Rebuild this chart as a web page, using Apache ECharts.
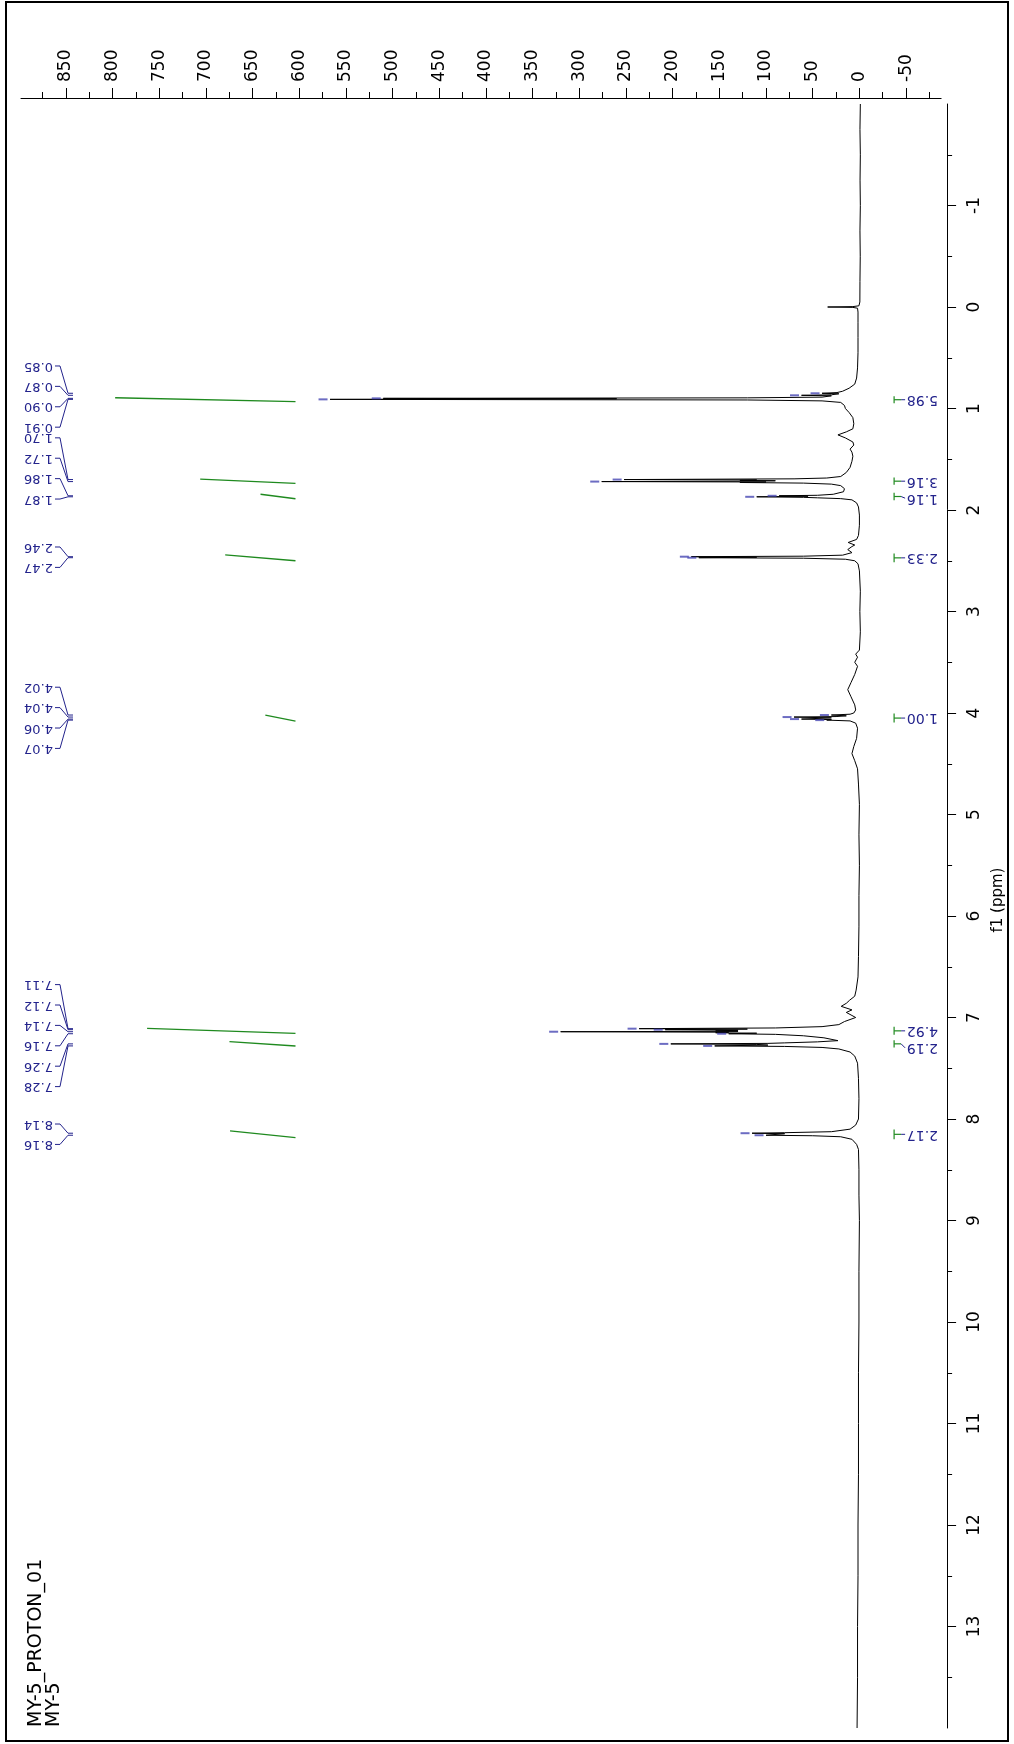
<!DOCTYPE html>
<html>
<head>
<meta charset="utf-8">
<script src="https://cdn.jsdelivr.net/npm/echarts/dist/echarts.min.js"></script>
<style>
  html, body { margin: 0; padding: 0; background: #fff; }
  #chart { width: 1014px; height: 1744px; }
</style>
</head>
<body>
<div id="chart"></div>
<script>
// 1H NMR spectrum of MY-5, drawn with the ppm axis running down the page.

// Spectrum trace: [chemical shift (ppm), intensity]
const spectrum = [
  [-2.0, -1], [-1.75, -0.6], [-1.5, -1], [-1.25, -0.7], [-1.0, -1], [-0.75, -0.6],
  [-0.5, -0.9], [-0.25, -0.6], [-0.05, -0.5], [-0.012, 0.5], [-0.004, 7], [0.0, 34],
  [0.004, 7], [0.012, 2], [0.05, 1.5], [0.15, 1.5], [0.3, 1.5], [0.45, 1.5], [0.6, 2],
  [0.7, 3], [0.76, 5], [0.8, 11], [0.83, 18], [0.843, 24], [0.85, 40], [0.855, 22],
  [0.865, 30], [0.87, 62], [0.875, 30], [0.888, 40], [0.895, 120], [0.90, 510],
  [0.904, 260], [0.91, 567], [0.916, 120], [0.925, 40], [0.94, 20], [0.97, 16], [1.0, 15],
  [1.04, 11], [1.09, 7], [1.15, 6], [1.2, 7], [1.23, 14], [1.26, 23], [1.29, 15], [1.33, 7],
  [1.36, 6], [1.40, 10], [1.43, 8], [1.47, 7], [1.52, 8], [1.58, 10], [1.63, 14], [1.67, 20],
  [1.685, 35], [1.693, 70], [1.70, 252], [1.704, 110], [1.708, 128], [1.712, 90],
  [1.716, 128], [1.72, 276], [1.724, 100], [1.729, 128], [1.735, 60], [1.745, 30],
  [1.76, 20], [1.79, 16], [1.82, 17], [1.845, 28], [1.855, 45], [1.86, 86], [1.864, 55],
  [1.87, 110], [1.875, 60], [1.88, 45], [1.888, 20], [1.9, 8], [1.93, 3], [1.97, 1],
  [2.05, 0], [2.15, 0], [2.25, 1], [2.29, 3], [2.32, 12], [2.345, 5], [2.36, 8],
  [2.39, 12.5], [2.42, 8], [2.445, 18], [2.455, 60], [2.46, 180], [2.465, 110],
  [2.47, 172], [2.475, 60], [2.485, 15], [2.5, 5], [2.53, 1.5], [2.6, 0], [2.8, -1],
  [3.0, -0.5], [3.2, -1], [3.38, 0], [3.42, 4], [3.45, 2], [3.5, 5], [3.54, 2], [3.62, 5],
  [3.7, 9], [3.77, 12.5], [3.84, 9], [3.92, 5], [3.97, 4], [4.0, 6], [4.012, 10],
  [4.02, 30], [4.028, 14], [4.035, 25], [4.04, 70], [4.048, 30], [4.055, 28], [4.06, 62],
  [4.065, 30], [4.07, 35], [4.078, 10], [4.1, 4], [4.15, 2], [4.25, 3], [4.33, 6],
  [4.4, 8], [4.47, 5], [4.55, 2], [4.7, 1], [4.9, 0], [5.2, 0.5], [5.5, 0], [5.8, 0.5],
  [6.1, 0.5], [6.4, 1], [6.6, 1.5], [6.73, 3.5], [6.79, 5], [6.83, 10.5], [6.86, 14],
  [6.89, 19.5], [6.925, 8], [6.95, 14], [6.98, 8], [7.0, 4], [7.04, 16], [7.07, 22],
  [7.09, 40], [7.103, 90], [7.11, 236], [7.114, 120], [7.12, 208], [7.126, 130],
  [7.132, 154], [7.136, 130], [7.14, 320], [7.145, 140], [7.15, 154], [7.155, 110],
  [7.16, 140], [7.166, 90], [7.18, 60], [7.2, 38], [7.228, 23], [7.24, 45], [7.25, 80],
  [7.255, 98], [7.26, 202], [7.265, 110], [7.272, 98], [7.28, 155], [7.285, 80],
  [7.295, 40], [7.31, 22], [7.34, 10], [7.38, 5], [7.45, 2], [7.6, 1], [7.8, 0.5],
  [8.0, 1], [8.06, 4], [8.1, 10], [8.125, 30], [8.135, 80], [8.14, 115], [8.145, 80],
  [8.152, 80], [8.16, 100], [8.165, 50], [8.175, 20], [8.2, 8], [8.25, 3], [8.3, 1],
  [8.5, 0.5], [8.75, 0.5], [9.0, 0], [9.5, 0.5], [10.0, 0.5], [10.5, 1], [11.0, 1],
  [11.5, 1], [12.0, 1.5], [12.5, 1.5], [13.0, 2], [13.5, 2], [14.0, 2.5]
];

// Picked peaks: shift (ppm), height, multiplet group
const peakShift  = [0.85, 0.87, 0.90, 0.91, 1.70, 1.72, 1.86, 1.87, 2.46, 2.47,
                    4.02, 4.04, 4.06, 4.07, 7.11, 7.12, 7.14, 7.16, 7.26, 7.28, 8.14, 8.16];
const peakHeight = [40, 62, 510, 567, 252, 276, 86, 110, 180, 172,
                    30, 70, 62, 35, 236, 208, 320, 140, 202, 155, 115, 100];
const peakGroup  = [0, 0, 0, 0, 1, 1, 1, 1, 2, 2, 3, 3, 3, 3, 4, 4, 4, 4, 4, 4, 5, 5];

// Integrals: region (ppm) and normalised value
const intFrom  = [0.894, 1.695, 1.845, 2.443, 4.02, 7.107, 7.238, 8.118];
const intTo    = [0.933, 1.737, 1.889, 2.50, 4.08, 7.156, 7.281, 8.184];
const intValue = [5.98, 3.16, 1.16, 2.33, 1.00, 4.92, 2.19, 2.17];

// Axis ticks
const xMajor = [850, 800, 750, 700, 650, 600, 550, 500, 450, 400, 350, 300, 250, 200, 150, 100, 50, 0, -50];
const xMinor = [875, 825, 775, 725, 675, 625, 575, 525, 475, 425, 375, 325, 275, 225, 175, 125, 75, 25, -25, -75];
const yMajor = [-1, 0, 1, 2, 3, 4, 5, 6, 7, 8, 9, 10, 11, 12, 13];
const yMinor = [-1.5, -0.5, 0.5, 1.5, 2.5, 3.5, 4.5, 5.5, 6.5, 7.5, 8.5, 9.5, 10.5, 11.5, 12.5, 13.5];

const titleLines = ['MY-5_PROTON_01', 'MY-5'];

// ---- styling ----
const FONT = '"DejaVu Sans", Verdana, sans-serif';
const LABEL_BLUE = '#23238c';
const MARK_BLUE = '#4747b3';
const INT_GREEN = '#1f8a1f';
const INT_BASE = 604;      // integral curve baseline (intensity units)
const INT_SCALE = 32.3;    // intensity units per integral unit
const LABEL_STEP = 20.4;   // px between stacked peak labels
const INT_LABEL_GAP = 17;  // px between neighbouring integral labels
const groupNudge = [0, -20, 0, 0, 0, 0];

const chart = echarts.init(document.getElementById('chart'), null, { renderer: 'canvas' });

const axisText = { fontFamily: FONT, fontSize: 17, color: '#000' };

function peakLabelItem(params, api) {
  const i = params.dataIndex;
  const cs = params.coordSys;
  const g = peakGroup[i];
  const members = [];
  peakGroup.forEach((gg, k) => { if (gg === g) members.push(k); });
  const n = members.length;
  const pos = members.indexOf(i);
  let mean = 0;
  members.forEach(k => { mean += api.coord([0, peakShift[k]])[1]; });
  mean /= n;
  const y = mean + groupNudge[g] + (pos - (n - 1) / 2) * LABEL_STEP;
  const tipY = api.coord([0, api.value(1)])[1];
  const x0 = cs.x;
  return {
    type: 'group',
    children: [
      {
        type: 'text', x: x0 + 32, y: y, rotation: Math.PI,
        style: { text: api.value(1).toFixed(2), fill: LABEL_BLUE, font: '13px ' + FONT,
                 align: 'left', verticalAlign: 'middle' }
      },
      {
        type: 'polyline',
        shape: { points: [[x0 + 34, y], [x0 + 39, y], [x0 + 47, tipY], [x0 + 52, tipY]] },
        style: { stroke: LABEL_BLUE, lineWidth: 1, fill: null }
      }
    ]
  };
}

// integral labels sit at their bracket centre; a crowded label moves down
function integralLabelY(api) {
  const out = intFrom.map((f, i) => (api.coord([0, f])[1] + api.coord([0, intTo[i]])[1]) / 2);
  for (let i = 1; i < out.length; i++) {
    if (out[i] - out[i - 1] < INT_LABEL_GAP) out[i] = out[i - 1] + INT_LABEL_GAP;
  }
  return out;
}

function integralItem(params, api) {
  const i = params.dataIndex;
  const cs = params.coordSys;
  const v = api.value(0), lo = api.value(1), hi = api.value(2);
  const pFull = api.coord([INT_BASE + v * INT_SCALE, lo]);
  const pBase = api.coord([INT_BASE, hi]);
  const yLo = api.coord([0, lo])[1];
  const yHi = api.coord([0, hi])[1];
  const bx = cs.x + cs.width - 47;
  const ly = integralLabelY(api)[i];
  const mid = (yLo + yHi) / 2;
  return {
    type: 'group',
    children: [
      { type: 'polyline', shape: { points: [pFull, pBase] },
        style: { stroke: INT_GREEN, lineWidth: 1.3, fill: null } },
      { type: 'line', shape: { x1: bx, y1: yLo - 1.5, x2: bx, y2: yHi + 1.5 },
        style: { stroke: INT_GREEN, lineWidth: 1.2 } },
      { type: 'line', shape: { x1: bx, y1: mid, x2: bx + 7, y2: mid },
        style: { stroke: INT_GREEN, lineWidth: 1.2 } },
      { type: 'line', shape: { x1: bx + 7, y1: mid, x2: bx + 11, y2: ly },
        style: { stroke: LABEL_BLUE, lineWidth: 1 } },
      { type: 'text', x: bx + 44, y: ly, rotation: Math.PI,
        style: { text: v.toFixed(2), fill: LABEL_BLUE, font: '14px ' + FONT,
                 align: 'left', verticalAlign: 'middle' } }
    ]
  };
}

const option = {
  animation: false,
  backgroundColor: '#fff',
  grid: { left: 21, right: 67, top: 104, bottom: 16, containLabel: false },
  xAxis: [
    {
      type: 'value', position: 'top', inverse: true, min: -87.5, max: 898, offset: 6,
      axisLine: { show: true, onZero: false, lineStyle: { color: '#000', width: 1 } },
      axisTick: { show: true, customValues: xMajor, length: 10, lineStyle: { color: '#000' } },
      axisLabel: Object.assign({ customValues: xMajor, rotate: -90, margin: 16 }, axisText),
      splitLine: { show: false }
    },
    {
      type: 'value', position: 'top', inverse: true, min: -87.5, max: 898, offset: 6,
      axisLine: { show: false, onZero: false },
      axisTick: { show: true, customValues: xMinor, length: 6, lineStyle: { color: '#000' } },
      axisLabel: { show: false },
      splitLine: { show: false }
    }
  ],
  yAxis: [
    {
      type: 'value', position: 'right', inverse: true, min: -2, max: 14, offset: 6,
      axisLine: { show: true, onZero: false, lineStyle: { color: '#000', width: 1 } },
      axisTick: { show: true, customValues: yMajor, length: 9, lineStyle: { color: '#000' } },
      axisLabel: Object.assign({ customValues: yMajor, rotate: 90, margin: 19,
                                 align: 'center', verticalAlign: 'top' }, axisText),
      splitLine: { show: false },
      name: 'f1 (ppm)', nameLocation: 'middle', nameRotate: 90, nameGap: 36,
      nameTextStyle: { fontFamily: FONT, fontSize: 15, color: '#000', padding: [0, 0, 0, 32] }
    },
    {
      type: 'value', position: 'right', inverse: true, min: -2, max: 14, offset: 6,
      axisLine: { show: false, onZero: false },
      axisTick: { show: true, customValues: yMinor, length: 5, lineStyle: { color: '#000' } },
      axisLabel: { show: false },
      splitLine: { show: false }
    }
  ],
  graphic: [
    { type: 'rect', shape: { x: 6, y: 2, width: 1002, height: 1739 },
      style: { stroke: '#000', lineWidth: 2, fill: null }, z: 100 },
    { type: 'text', x: 36, y: 1727, rotation: Math.PI / 2, z: 100,
      style: { text: titleLines[0], font: '19px ' + FONT, fill: '#000', align: 'left', verticalAlign: 'middle' } },
    { type: 'text', x: 54, y: 1727, rotation: Math.PI / 2, z: 100,
      style: { text: titleLines[1], font: '19px ' + FONT, fill: '#000', align: 'left', verticalAlign: 'middle' } }
  ],
  series: [
    {
      type: 'line', name: 'spectrum', xAxisIndex: 0, yAxisIndex: 0,
      data: spectrum.map(([d, v]) => [v, d]),
      showSymbol: false, symbol: 'none', silent: true,
      lineStyle: { color: '#000', width: 1 }, z: 4
    },
    {
      type: 'scatter', name: 'peaks', xAxisIndex: 0, yAxisIndex: 0,
      data: peakShift.map((s, i) => [peakHeight[i], s]),
      symbol: 'rect', symbolSize: [9, 2], symbolOffset: [-7, 0],
      itemStyle: { color: MARK_BLUE }, z: 5
    },
    {
      type: 'custom', name: 'peakLabels', xAxisIndex: 0, yAxisIndex: 0,
      data: peakShift.map((s, i) => [peakHeight[i], s]),
      renderItem: peakLabelItem, z: 6
    },
    {
      type: 'custom', name: 'integrals', xAxisIndex: 0, yAxisIndex: 0,
      data: intValue.map((v, i) => [v, intFrom[i], intTo[i]]),
      renderItem: integralItem, z: 6
    }
  ]
};

chart.setOption(option);
</script>
</body>
</html>
